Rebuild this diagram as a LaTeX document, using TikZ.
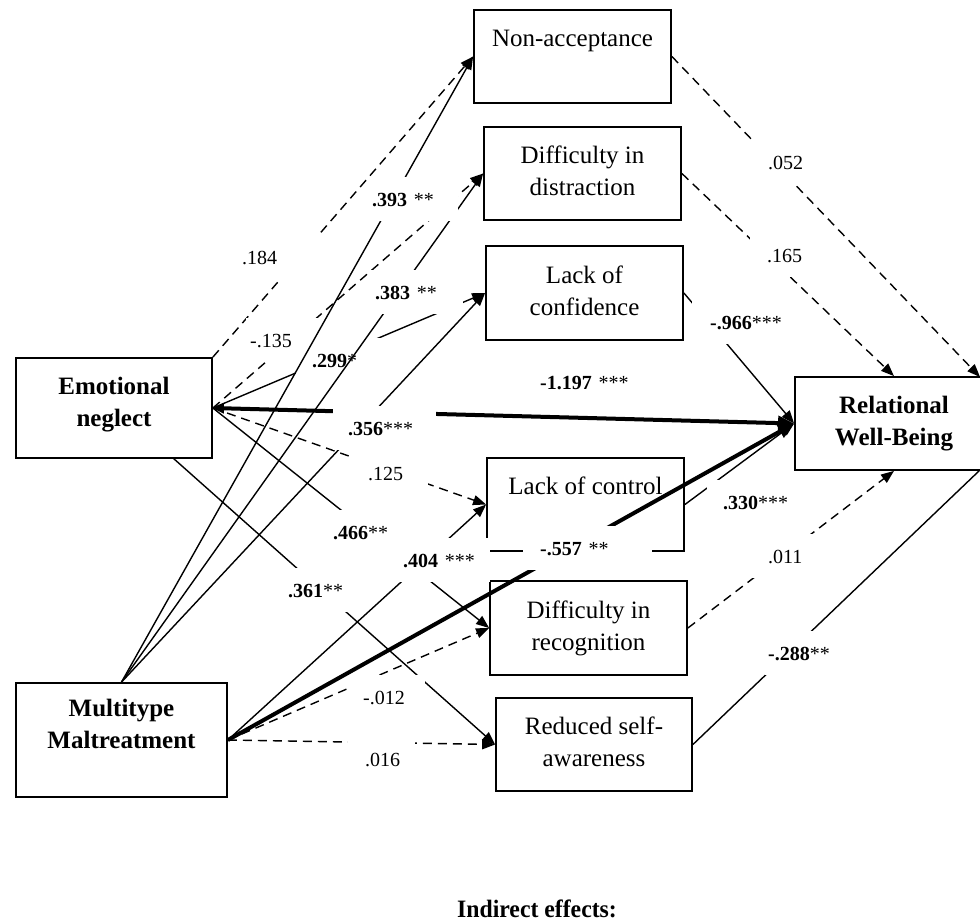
\documentclass[tikz,border=0pt]{standalone}
\usepackage{fontspec}
\setmainfont{Liberation Serif}
\usetikzlibrary{arrows.meta}
\newcommand{\xdp}[1]{\rule[-#1]{0pt}{#1}}
\begin{document}
\begin{tikzpicture}[x=1pt,y=-1pt,
  mbox/.style={draw,line width=1.8pt,minimum width=197pt,minimum height=93pt,inner sep=0pt,align=center,font=\fontsize{25}{32}\selectfont},
  mbold/.style={mbox,font=\fontsize{25}{32}\selectfont\bfseries},
  conn/.style={line width=1.4pt,-{Triangle[length=13pt,width=10pt]}},
  dconn/.style={conn,dash pattern=on 9pt off 6pt},
  fat/.style={line width=4pt,-{Triangle[length=16pt,width=14pt]}},
  lbl/.style={fill=white,anchor=west,align=left,inner sep=0pt,minimum height=44pt,text height=14pt,text depth=0pt,font=\fontsize{20}{24}\selectfont}]
\useasboundingbox (0,0) rectangle (980,922);
\clip (0,0) rectangle (980,922);

% boxes
\node[mbox] (NA) at (572.5,56.5) {Non-acceptance\strut\\\strut};
\node[mbox] (DD) at (582.5,173.5) {Difficulty in\strut\\distraction\strut};
\node[mbox,minimum height=94pt] (LC) at (584.5,293) {Lack of\strut\\confidence\strut};
\node[mbox] (LT) at (585.5,504.5) {Lack of control\strut\\\strut};
\node[mbox,minimum height=94pt] (DR) at (588.5,628) {Difficulty in\strut\\recognition\strut};
\node[mbox,minimum width=196pt] (RS) at (594,744.5) {Reduced self-\strut\\awareness\strut};
\node[mbold,minimum width=196pt,minimum height=100pt] (EN) at (114,408) {Emotional\strut\\neglect\strut\xdp{17.6pt}};
\node[mbold,minimum width=211pt,minimum height=114pt] (MM) at (121.5,740) {Multitype\strut\\Maltreatment\strut\xdp{36.6pt}};
\node[mbold,minimum width=198pt,minimum height=93pt] (RW) at (894,423.5) {Relational\strut\\Well-Being\strut};
\node[font=\fontsize{25}{30}\selectfont\bfseries] (IE) at (537,909) {\scalebox{0.95}[1]{Indirect effects:}};

\coordinate (ENb) at (173,458);
\coordinate (RWtr) at (980,377);
\coordinate (RWbr) at (980,470);

% connectors, first layer
\draw[dconn] (EN.north east) -- (NA.west);
\draw[dconn] (EN.east) -- (DD.west);
\draw[conn] (EN.east) -- (LC.west);
\draw[fat,{Triangle[length=11pt,width=10pt]}-{Triangle[length=16pt,width=14pt]}] (EN.east) -- (RW.west);
\draw[dconn] (EN.east) -- (LT.west);
\draw[conn] (EN.east) -- (DR.west);
\draw[conn] (ENb) -- (RS.west);
\draw[conn] (MM.north) -- (LC.west);
\draw[conn] (MM.east) -- (LT.west);
\draw[fat] (MM.east) -- (RW.west);
\draw[dconn] (MM.east) -- (DR.west);
\draw[dconn] (MM.east) -- (RS.west);
\draw[dconn] (NA.east) -- (RWtr);
\draw[dconn] (DD.east) -- (RW.north);
\draw[conn] (LC.east) -- (RW.west);
\draw[conn] (LT.east) -- (RW.west);
\draw[dconn] (DR.east) -- (RW.south);
\draw[line width=1.4pt] (RS.east) -- (RWbr);

% labels, first layer
\node[lbl,text width=87pt] (L184) at (238,257) {\hspace*{4pt}.184};
\node[lbl,text width=76pt] (L135) at (246,340) {\hspace*{4pt}-.135};
\node[lbl,text width=87pt] (L299) at (296,360) {\hspace*{16pt}\textbf{.299}*};
\node[lbl,text width=103pt] (L356) at (333,428) {\hspace*{15pt}\textbf{.356}***};
\node[lbl,text width=75pt] (L125) at (353,473) {\hspace*{15pt}.125};
\node[lbl,text width=86pt] (L466) at (329,532) {\hspace*{4pt}\textbf{.466}**};
\node[lbl,text width=98pt] (L404) at (392,560) {\hspace*{11pt}\textbf{.404} ***};
\node[lbl,text width=73pt] (L361) at (284,590) {\hspace*{4pt}\textbf{.361}**};
\node[lbl,text width=75pt] (L012) at (350,697) {\hspace*{13pt}-.012};
\node[lbl,text width=67pt] (L016) at (348,759) {\hspace*{17pt}.016};
\node[lbl,text width=124pt] (L1197) at (536,382) {\hspace*{4pt}\textbf{-1.197} ***};
\node[lbl,text width=87pt] (L052) at (748,162) {\hspace*{20pt}.052};
\node[lbl,text width=70pt] (L165) at (750,255) {\hspace*{17pt}.165};
\node[lbl,text width=108pt] (L966) at (692,322) {\hspace*{18pt}\textbf{-.966}***};
\node[lbl,text width=129pt] (L557) at (523,548) {\hspace*{17pt}\textbf{-.557} **};
\node[lbl,text width=103pt] (L330) at (707,502) {\hspace*{16pt}\textbf{.330}***};
\node[lbl,text width=70pt] (L011) at (752,556) {\hspace*{16pt}.011};
\node[lbl,text width=80pt] (L288) at (765,653) {\hspace*{3pt}\textbf{-.288}**};

% connectors, second layer
\draw[conn] (MM.north) -- (NA.west);
\draw[conn] (MM.north) -- (DD.west);

% labels, second layer
\node[lbl,text width=90pt] (L393) at (368,199) {\hspace*{4pt}\textbf{.393} **};
\node[lbl,text width=92pt] (L383) at (371,292) {\hspace*{4pt}\textbf{.383} **};
\end{tikzpicture}
\end{document}
